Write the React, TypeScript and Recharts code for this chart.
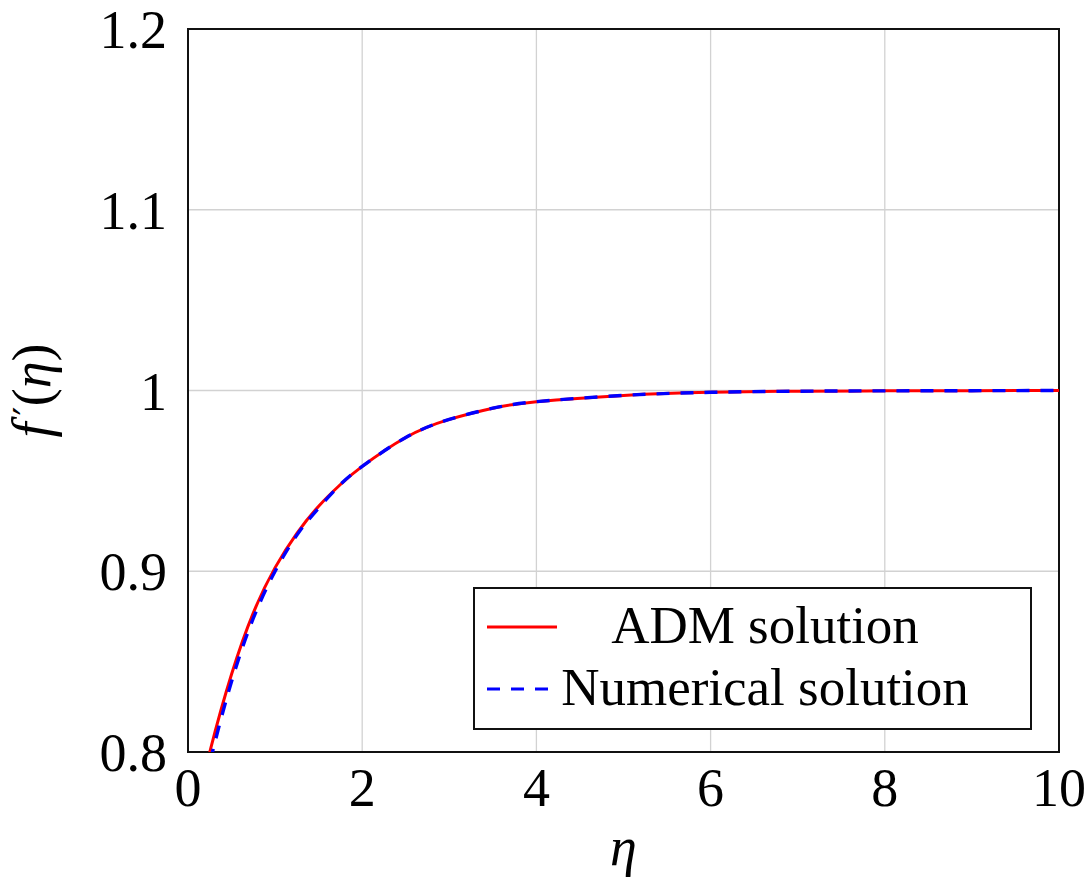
import {
  CartesianGrid,
  Label,
  Line,
  LineChart,
  ReferenceArea,
  XAxis,
  YAxis,
} from "recharts";

// eta values (x) and f'(eta)
const eta = [0, 0.25, 0.5, 0.75, 1, 1.25, 1.5, 1.75, 2, 2.5, 3, 3.5, 4, 5, 6, 7, 8, 9, 10];
const admSolution = [
  0.75, 0.8, 0.843, 0.877, 0.902, 0.921, 0.936, 0.948, 0.958, 0.974, 0.984,
  0.9902, 0.9938, 0.9973, 0.999, 0.9996, 0.9998, 0.9999, 1.0,
];
const numericalSolution = [
  0.743, 0.794, 0.839, 0.874, 0.9, 0.92, 0.935, 0.948, 0.958, 0.974, 0.984,
  0.9902, 0.9938, 0.9973, 0.999, 0.9996, 0.9998, 0.9999, 1.0,
];

const xTicks = [0, 2, 4, 6, 8, 10];
const yTicks = [0.8, 0.9, 1, 1.1, 1.2];
const yTickLabels = ["0.8", "0.9", "1", "1.1", "1.2"];

const data = eta.map((x, i) => ({
  eta: x,
  adm: admSolution[i],
  num: numericalSolution[i],
}));

const series = [
  { key: "adm", name: "ADM solution", color: "#ff0000", width: 3, dash: undefined },
  { key: "num", name: "Numerical solution", color: "#0000ff", width: 3.4, dash: "13 11" },
];

const FONT = "'Liberation Serif', 'Times New Roman', serif";

const tickStyle = { fontFamily: FONT, fontSize: 54, fill: "#000" };

function LegendBox() {
  return (
    <div
      style={{
        position: "absolute",
        left: 473,
        top: 587,
        width: 559,
        height: 143,
        boxSizing: "border-box",
        border: "2px solid #111",
        background: "#fff",
      }}
    >
      <svg width={555} height={139} style={{ display: "block" }}>
        {series.map((s, i) => {
          const y = 38 + i * 62;
          return (
            <g key={s.key}>
              <line
                x1={12}
                x2={82}
                y1={y}
                y2={y}
                stroke={s.color}
                strokeWidth={3}
                strokeDasharray={s.dash}
              />
              <text
                x={290}
                y={y + 16}
                textAnchor="middle"
                fontFamily={FONT}
                fontSize={53}
                fill="#000"
              >
                {s.name}
              </text>
            </g>
          );
        })}
      </svg>
    </div>
  );
}

export default function App() {
  return (
    <div style={{ position: "absolute", left: 0, top: 0, width: 1088, height: 878, background: "#fff" }}>
      <LineChart
        width={1088}
        height={878}
        data={data}
        margin={{ top: 29, right: 29, bottom: 46, left: 0 }}
      >
        <CartesianGrid stroke="#d2d2d2" strokeWidth={1.3} />
        <XAxis
          dataKey="eta"
          type="number"
          domain={[0, 10]}
          ticks={xTicks}
          height={80}
          tickSize={0}
          tickMargin={16}
          axisLine={false}
          tick={tickStyle}
          interval={0}
        >
          <Label
            content={({ viewBox }: any) => (
              <text
                x={viewBox.x + viewBox.width / 2}
                y={viewBox.y + 113}
                textAnchor="middle"
                fontFamily={FONT}
                fontStyle="italic"
                fontSize={54}
              >
                η
              </text>
            )}
          />
        </XAxis>
        <YAxis
          type="number"
          domain={[0.8, 1.2]}
          ticks={yTicks}
          allowDataOverflow
          width={188}
          tickSize={0}
          tickMargin={21}
          axisLine={false}
          tick={tickStyle}
          interval={0}
          tickFormatter={(v: number) => yTickLabels[yTicks.indexOf(v)] ?? String(v)}
        >
          <Label
            content={({ viewBox }: any) => {
              const cx = 50;
              const cy = viewBox.y + viewBox.height / 2;
              return (
                <text
                  x={cx}
                  y={cy}
                  transform={`rotate(-90, ${cx}, ${cy})`}
                  textAnchor="middle"
                  fontFamily={FONT}
                  fontSize={54}
                >
                  <tspan fontStyle="italic">f</tspan>
                  <tspan fontFamily="'DejaVu Serif', serif" fontSize={40} dx={7} dy={-8}>
                    ′
                  </tspan>
                  <tspan dy={8}>(</tspan>
                  <tspan fontStyle="italic">η</tspan>
                  <tspan>)</tspan>
                </text>
              );
            }}
          />
        </YAxis>
        {series.map((s) => (
          <Line
            key={s.key}
            type="natural"
            dataKey={s.key}
            name={s.name}
            stroke={s.color}
            strokeWidth={s.width}
            strokeDasharray={s.dash}
            dot={false}
            isAnimationActive={false}
          />
        ))}
        <ReferenceArea
          x1={0}
          x2={10}
          y1={0.8}
          y2={1.2}
          fill="none"
          stroke="#111"
          strokeWidth={2}
          ifOverflow="visible"
        />
      </LineChart>
      <LegendBox />
    </div>
  );
}
